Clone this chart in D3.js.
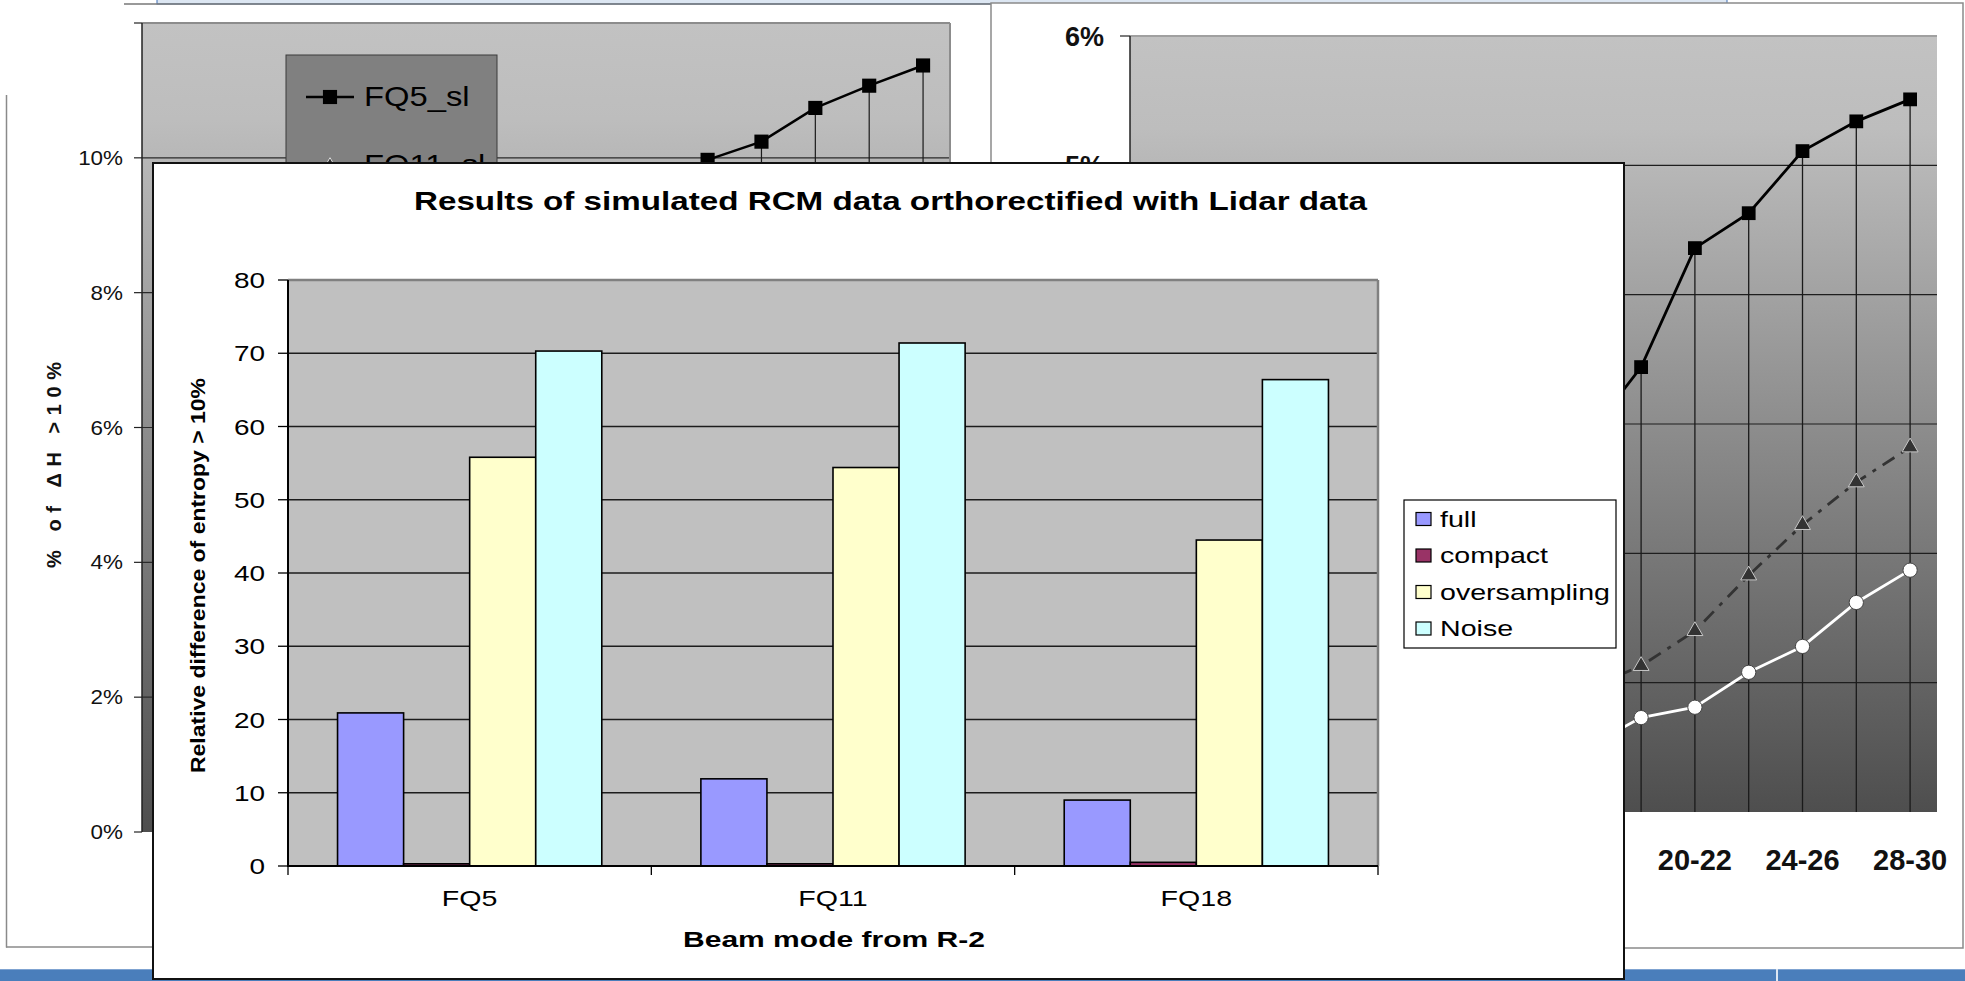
<!DOCTYPE html>
<html>
<head>
<meta charset="utf-8">
<script src="https://cdn.jsdelivr.net/npm/d3@7"></script>
<style>
  html, body { margin: 0; padding: 0; background: #fff; overflow: hidden; }
  svg { display: block; }
  text { font-family: "Liberation Sans", Arial, Helvetica, sans-serif; }
</style>
</head>
<body>
<svg id="chart" width="1965" height="981"></svg>
<script>
// ---- Front chart: relative entropy difference per beam mode ----
const categories = ["FQ5", "FQ11", "FQ18"];
const seriesNames = ["full", "compact", "oversampling", "Noise"];
const fullValues = [20.9, 11.9, 9.0];
const compactValues = [0.3, 0.3, 0.5];
const oversamplingValues = [55.8, 54.4, 44.5];
const noiseValues = [70.3, 71.4, 66.4];
const seriesColors = ["#9999FF", "#993366", "#FFFFCC", "#CCFFFF"];
const yTickValues = [0, 10, 20, 30, 40, 50, 60, 70, 80];

// ---- Charts behind: % of pixels with ΔH > 10% per incidence-angle range ----
const angleRanges = ["0-2", "2-4", "4-6", "6-8", "8-10", "10-12", "12-14", "14-16",
                     "16-18", "18-20", "20-22", "22-24", "24-26", "26-28", "28-30"];
const leftFQ5 = [null, null, null, null, null, null, null, null, null, null,
                 9.97, 10.24, 10.74, 11.07, 11.37];
const leftTicks = [0, 2, 4, 6, 8, 10, 12];
const rightFQ5 = [null, null, null, null, null, null, null, null,
                  2.90, 3.44, 4.36, 4.63, 5.11, 5.34, 5.51];
const rightFQ11 = [null, null, null, null, null, null, null, null,
                   0.95, 1.13, 1.40, 1.83, 2.22, 2.55, 2.82];
const rightFQ18 = [null, null, null, null, null, null, null, null,
                   0.50, 0.73, 0.81, 1.08, 1.28, 1.62, 1.87];
const rightTicks = [0, 1, 2, 3, 4, 5, 6];

const svg = d3.select("#chart");
svg.append("rect").attr("width", 1965).attr("height", 981).attr("fill", "#fff");

const defs = svg.append("defs");
function shadeGradient(id) {
  const g = defs.append("linearGradient").attr("id", id)
    .attr("x1", 0).attr("y1", 0).attr("x2", 0).attr("y2", 1);
  g.append("stop").attr("offset", "0").attr("stop-color", "#C2C2C2");
  g.append("stop").attr("offset", "0.12").attr("stop-color", "#BDBDBD");
  g.append("stop").attr("offset", "1").attr("stop-color", "#4E4E4E");
}
shadeGradient("shadeLeft");
shadeGradient("shadeRight");

const pct = d => d + "%";
const lineGen = (x, y) => d3.line().defined(d => d.v != null).x(d => x(d.c)).y(d => y(d.v));

// ================= Left chart (behind) =================
const L = { left: 142, right: 950, top: 23, bottom: 832 };
const lxBand = d3.scaleBand().domain(angleRanges).range([L.left, L.right]);
const lx = c => lxBand(c) + lxBand.bandwidth() / 2;
const ly = d3.scaleLinear().domain([0, 12]).range([L.bottom, L.top]);
const leftG = svg.append("g");

leftG.append("line").attr("x1", 6.5).attr("x2", 6.5).attr("y1", 95).attr("y2", 947.5)
  .attr("stroke", "#8a8a8a").attr("stroke-width", 1.5);
leftG.append("line").attr("x1", 6).attr("x2", 170).attr("y1", 947).attr("y2", 947)
  .attr("stroke", "#8a8a8a").attr("stroke-width", 1.5);

leftG.append("rect").attr("x", L.left).attr("y", L.top)
  .attr("width", L.right - L.left).attr("height", L.bottom - L.top)
  .attr("fill", "url(#shadeLeft)");
leftG.selectAll("line.grid").data(leftTicks.filter(t => t > 0 && t < 12)).join("line")
  .attr("x1", L.left).attr("x2", L.right).attr("y1", d => ly(d)).attr("y2", d => ly(d))
  .attr("stroke", "#2a2a2a").attr("stroke-width", 1.2);
leftG.append("line").attr("x1", L.left).attr("x2", L.right).attr("y1", L.top).attr("y2", L.top)
  .attr("stroke", "#8c8c8c").attr("stroke-width", 2);
leftG.append("line").attr("x1", L.right).attr("x2", L.right).attr("y1", L.top).attr("y2", L.bottom)
  .attr("stroke", "#8c8c8c").attr("stroke-width", 2);
leftG.append("line").attr("x1", L.left).attr("x2", L.left).attr("y1", L.top).attr("y2", L.bottom)
  .attr("stroke", "#222").attr("stroke-width", 1.5);
leftG.selectAll("line.tick").data(leftTicks).join("line")
  .attr("x1", L.left - 8).attr("x2", L.left).attr("y1", d => ly(d)).attr("y2", d => ly(d))
  .attr("stroke", "#222").attr("stroke-width", 1.2);
leftG.selectAll("text.tick").data(leftTicks.filter(t => t < 12)).join("text")
  .attr("transform", d => `translate(123,${ly(d) + 7}) scale(1.15,1)`)
  .attr("text-anchor", "end").attr("font-size", 19.5).attr("fill", "#111")
  .text(pct);
leftG.append("text")
  .attr("transform", "translate(61,568) rotate(-90)")
  .attr("font-size", 20).attr("font-weight", "bold").attr("fill", "#111")
  .attr("textLength", 206).attr("lengthAdjust", "spacing")
  .text("% of ΔH >10%");

const leftPts = angleRanges.map((c, i) => ({ c, v: leftFQ5[i] }));
leftG.selectAll("line.drop").data(leftPts.filter(d => d.v != null)).join("line")
  .attr("x1", d => lx(d.c)).attr("x2", d => lx(d.c))
  .attr("y1", d => ly(d.v)).attr("y2", L.bottom)
  .attr("stroke", "#1a1a1a").attr("stroke-width", 1.2);
leftG.append("path").datum(leftPts).attr("d", lineGen(lx, ly))
  .attr("fill", "none").attr("stroke", "#000").attr("stroke-width", 2.5);
leftG.selectAll("path.mk").data(leftPts.filter(d => d.v != null)).join("path")
  .attr("transform", d => `translate(${lx(d.c)},${ly(d.v)})`)
  .attr("d", d3.symbol(d3.symbolSquare, 200)).attr("fill", "#000");

// legend of the left chart
leftG.append("rect").attr("x", 286).attr("y", 55).attr("width", 211).attr("height", 160)
  .attr("fill", "#808080").attr("stroke", "#3a3a3a").attr("stroke-width", 1);
leftG.append("line").attr("x1", 306).attr("x2", 354).attr("y1", 97).attr("y2", 97)
  .attr("stroke", "#000").attr("stroke-width", 2.5);
leftG.append("path").attr("transform", "translate(330,97)")
  .attr("d", d3.symbol(d3.symbolSquare, 200)).attr("fill", "#000");
leftG.append("text").attr("transform", "translate(364,106) scale(1.17,1)")
  .attr("font-size", 28).attr("fill", "#000").text("FQ5_sl");
leftG.append("path").attr("transform", "translate(330,166)")
  .attr("d", d3.symbol(d3.symbolTriangle, 90)).attr("fill", "#333").attr("stroke", "#ddd");
leftG.append("text").attr("transform", "translate(364,174) scale(1.17,1)")
  .attr("font-size", 28).attr("fill", "#000").text("FQ11_sl");

// slide title strip at the top edge
svg.append("rect").attr("x", 157).attr("y", -2).attr("width", 1570).attr("height", 6)
  .attr("fill", "#DCE6F2").attr("stroke", "#3F6FB5").attr("stroke-width", 1);
svg.append("line").attr("x1", 124).attr("x2", 995).attr("y1", 4).attr("y2", 4)
  .attr("stroke", "#777").attr("stroke-width", 1.5);

// ================= Right chart (behind) =================
const R = { left: 1130, right: 1937, top: 36, bottom: 812 };
const rxBand = d3.scaleBand().domain(angleRanges).range([R.left, R.right]);
const rx = c => rxBand(c) + rxBand.bandwidth() / 2;
const ry = d3.scaleLinear().domain([0, 6]).range([R.bottom, R.top]);
const rightG = svg.append("g");

rightG.append("rect").attr("x", 991).attr("y", 3).attr("width", 972).attr("height", 945)
  .attr("fill", "#fff").attr("stroke", "#8a8a8a").attr("stroke-width", 1.5);
rightG.append("rect").attr("x", R.left).attr("y", R.top)
  .attr("width", R.right - R.left).attr("height", R.bottom - R.top)
  .attr("fill", "url(#shadeRight)");
rightG.selectAll("line.grid").data(rightTicks.filter(t => t > 0 && t < 6)).join("line")
  .attr("x1", R.left).attr("x2", R.right).attr("y1", d => ry(d)).attr("y2", d => ry(d))
  .attr("stroke", "#1e1e1e").attr("stroke-width", 1.2);
rightG.append("line").attr("x1", R.left).attr("x2", R.right).attr("y1", R.top).attr("y2", R.top)
  .attr("stroke", "#a0a0a0").attr("stroke-width", 2);
rightG.append("line").attr("x1", R.left).attr("x2", R.left).attr("y1", R.top).attr("y2", R.bottom)
  .attr("stroke", "#222").attr("stroke-width", 1.5);
rightG.selectAll("line.tick").data(rightTicks).join("line")
  .attr("x1", R.left - 10).attr("x2", R.left).attr("y1", d => ry(d)).attr("y2", d => ry(d))
  .attr("stroke", "#222").attr("stroke-width", 1.2);
rightG.selectAll("text.tick").data(rightTicks).join("text")
  .attr("x", 1104).attr("y", d => ry(d) + 10)
  .attr("text-anchor", "end").attr("font-size", 27).attr("font-weight", "bold")
  .attr("fill", "#111").text(pct);
rightG.selectAll("text.cat").data(angleRanges.filter((c, i) => i % 2 === 0)).join("text")
  .attr("x", d => rx(d)).attr("y", 870)
  .attr("text-anchor", "middle").attr("font-size", 29).attr("font-weight", "bold")
  .attr("fill", "#111").text(d => d);

const rPts5 = angleRanges.map((c, i) => ({ c, v: rightFQ5[i] }));
const rPts11 = angleRanges.map((c, i) => ({ c, v: rightFQ11[i] }));
const rPts18 = angleRanges.map((c, i) => ({ c, v: rightFQ18[i] }));
rightG.selectAll("line.drop").data(rPts5.filter(d => d.v != null)).join("line")
  .attr("x1", d => rx(d.c)).attr("x2", d => rx(d.c))
  .attr("y1", d => ry(d.v)).attr("y2", R.bottom)
  .attr("stroke", "#1a1a1a").attr("stroke-width", 1.3);
rightG.append("path").datum(rPts18).attr("d", lineGen(rx, ry))
  .attr("fill", "none").attr("stroke", "#fff").attr("stroke-width", 2.8);
rightG.append("path").datum(rPts11).attr("d", lineGen(rx, ry))
  .attr("fill", "none").attr("stroke", "#333").attr("stroke-width", 2.8)
  .attr("stroke-dasharray", "14,8,4,8");
rightG.append("path").datum(rPts5).attr("d", lineGen(rx, ry))
  .attr("fill", "none").attr("stroke", "#000").attr("stroke-width", 2.8);
rightG.selectAll("path.mk18").data(rPts18.filter(d => d.v != null)).join("path")
  .attr("transform", d => `translate(${rx(d.c)},${ry(d.v)})`)
  .attr("d", d3.symbol(d3.symbolCircle, 160)).attr("fill", "#fff")
  .attr("stroke", "#444").attr("stroke-width", 1);
rightG.selectAll("path.mk11").data(rPts11.filter(d => d.v != null)).join("path")
  .attr("transform", d => `translate(${rx(d.c)},${ry(d.v)})`)
  .attr("d", d3.symbol(d3.symbolTriangle, 110)).attr("fill", "#333")
  .attr("stroke", "#c8c8c8").attr("stroke-width", 1);
rightG.selectAll("path.mk5").data(rPts5.filter(d => d.v != null)).join("path")
  .attr("transform", d => `translate(${rx(d.c)},${ry(d.v)})`)
  .attr("d", d3.symbol(d3.symbolSquare, 190)).attr("fill", "#000");

// bottom slide band
svg.append("rect").attr("x", 0).attr("y", 969).attr("width", 1965).attr("height", 12)
  .attr("fill", "#4A7EBB");
svg.append("line").attr("x1", 0).attr("x2", 1965).attr("y1", 969.5).attr("y2", 969.5)
  .attr("stroke", "#7FA3D1").attr("stroke-width", 1);
svg.append("rect").attr("x", 1776).attr("y", 969).attr("width", 2).attr("height", 12)
  .attr("fill", "#DDE7F3");

// ================= Front chart =================
const front = svg.append("g");
front.append("rect").attr("x", 153).attr("y", 163).attr("width", 1471).attr("height", 816)
  .attr("fill", "#fff").attr("stroke", "#111").attr("stroke-width", 2);

const P = { left: 288, right: 1378, top: 280, bottom: 866 };
const x0 = d3.scaleBand().domain(categories).range([P.left, P.right]).padding(0);
const x1 = d3.scaleBand().domain(seriesNames).range([0, x0.bandwidth()])
  .paddingInner(0).paddingOuter(0.75);
const y = d3.scaleLinear().domain([0, 80]).range([P.bottom, P.top]);

front.append("rect").attr("x", P.left).attr("y", P.top)
  .attr("width", P.right - P.left).attr("height", P.bottom - P.top).attr("fill", "#C0C0C0");
front.selectAll("line.grid").data(yTickValues.filter(t => t > 0 && t < 80)).join("line")
  .attr("x1", P.left).attr("x2", P.right).attr("y1", d => y(d)).attr("y2", d => y(d))
  .attr("stroke", "#1c1c1c").attr("stroke-width", 1.3);
front.append("line").attr("x1", P.left).attr("x2", P.right).attr("y1", P.top).attr("y2", P.top)
  .attr("stroke", "#808080").attr("stroke-width", 2.5);
front.append("line").attr("x1", P.right).attr("x2", P.right).attr("y1", P.top).attr("y2", P.bottom)
  .attr("stroke", "#808080").attr("stroke-width", 2.5);

const table = categories.map((c, i) => ({
  category: c,
  values: [fullValues[i], compactValues[i], oversamplingValues[i], noiseValues[i]]
}));
const groups = front.selectAll("g.group").data(table).join("g")
  .attr("transform", d => `translate(${x0(d.category)},0)`);
groups.selectAll("rect").data(d => d.values.map((v, j) => ({ name: seriesNames[j], v, j })))
  .join("rect")
  .attr("x", d => x1(d.name)).attr("width", x1.bandwidth())
  .attr("y", d => y(d.v)).attr("height", d => y(0) - y(d.v))
  .attr("fill", d => seriesColors[d.j]).attr("stroke", "#000").attr("stroke-width", 1.6);

// axes
front.append("line").attr("x1", P.left).attr("x2", P.left).attr("y1", P.top).attr("y2", P.bottom)
  .attr("stroke", "#000").attr("stroke-width", 2);
front.append("line").attr("x1", P.left - 1).attr("x2", P.right).attr("y1", P.bottom).attr("y2", P.bottom)
  .attr("stroke", "#000").attr("stroke-width", 2);
front.selectAll("line.ytick").data(yTickValues).join("line")
  .attr("x1", P.left - 10).attr("x2", P.left).attr("y1", d => y(d)).attr("y2", d => y(d))
  .attr("stroke", "#000").attr("stroke-width", 1.3);
front.selectAll("text.ytick").data(yTickValues).join("text")
  .attr("transform", d => `translate(265,${y(d) + 8}) scale(1.3,1)`)
  .attr("text-anchor", "end").attr("font-size", 21.5).attr("fill", "#000")
  .text(d => d);
const boundaries = categories.map(c => x0(c)).concat([P.right]);
front.selectAll("line.xtick").data(boundaries).join("line")
  .attr("x1", d => d).attr("x2", d => d).attr("y1", P.bottom).attr("y2", P.bottom + 9)
  .attr("stroke", "#000").attr("stroke-width", 1.3);
front.selectAll("text.xcat").data(categories).join("text")
  .attr("transform", d => `translate(${x0(d) + x0.bandwidth() / 2},906) scale(1.3,1)`)
  .attr("text-anchor", "middle").attr("font-size", 22).attr("fill", "#000")
  .text(d => d);

// titles
front.append("text").attr("x", 414).attr("y", 210)
  .attr("font-size", 25).attr("font-weight", "bold").attr("fill", "#000")
  .attr("textLength", 953).attr("lengthAdjust", "spacingAndGlyphs")
  .text("Results of simulated RCM data orthorectified with Lidar data");
front.append("text").attr("x", 683).attr("y", 947)
  .attr("font-size", 21.5).attr("font-weight", "bold").attr("fill", "#000")
  .attr("textLength", 302).attr("lengthAdjust", "spacingAndGlyphs")
  .text("Beam mode from R-2");
front.append("text").attr("transform", "translate(205,773) rotate(-90)")
  .attr("font-size", 20.5).attr("font-weight", "bold").attr("fill", "#000")
  .attr("textLength", 395).attr("lengthAdjust", "spacingAndGlyphs")
  .text("Relative difference of entropy > 10%");

// legend
const legend = front.append("g");
legend.append("rect").attr("x", 1404).attr("y", 500).attr("width", 212).attr("height", 148)
  .attr("fill", "#fff").attr("stroke", "#000").attr("stroke-width", 1.2);
const legendY = d3.scalePoint().domain(seriesNames).range([518.5, 628]);
legend.selectAll("rect.sw").data(seriesNames).join("rect")
  .attr("x", 1416).attr("y", d => legendY(d) - 6).attr("width", 15).attr("height", 13)
  .attr("fill", (d, i) => seriesColors[i]).attr("stroke", "#000").attr("stroke-width", 1.2);
legend.selectAll("text.lg").data(seriesNames).join("text")
  .attr("transform", d => `translate(1440,${legendY(d) + 8}) scale(1.3,1)`)
  .attr("font-size", 22).attr("fill", "#000").text(d => d);
</script>
</body>
</html>
